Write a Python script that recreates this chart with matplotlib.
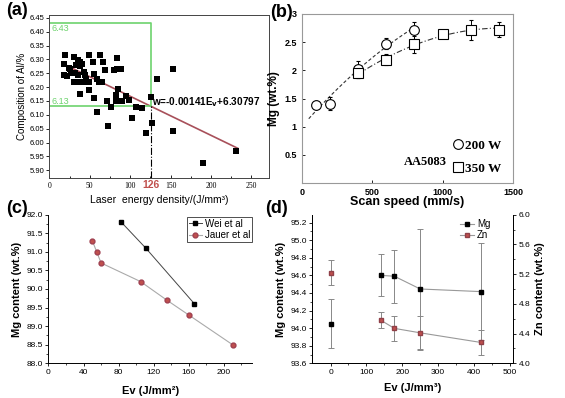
import numpy as np
import matplotlib
matplotlib.use('Agg')
import matplotlib.pyplot as plt
from matplotlib.lines import Line2D

plt.rcParams['font.family'] = ['Liberation Sans', 'DejaVu Sans']

# ---- (a) Al composition vs laser energy density
a_ev = [20, 18, 18, 24, 30, 32.5, 36, 38, 41, 37.5, 32, 35, 30, 36, 42, 38, 43, 44,
        46, 48.5, 49.5, 54.5, 55, 58.5, 61, 62.5, 66, 65.5, 69, 49.5, 55, 59, 72.5,
        71, 76.5, 82.5, 84, 80, 84, 89, 85, 83, 89.5, 94.5, 99, 107, 102, 115, 119.5,
        127, 126, 133.5, 153.5, 153, 190, 231.5, 25.5, 27, 22]
a_al = [6.317, 6.285, 6.242, 6.268, 6.307, 6.280, 6.296, 6.291, 6.282, 6.276, 6.252,
        6.244, 6.220, 6.218, 6.218, 6.176, 6.253, 6.243, 6.230, 6.218, 6.315, 6.289,
        6.248, 6.230, 6.218, 6.315, 6.289, 6.218, 6.261, 6.190, 6.161, 6.109, 6.060,
        6.150, 6.128, 6.150, 6.306, 6.262, 6.266, 6.266, 6.194, 6.170, 6.150, 6.168,
        6.154, 6.128, 6.089, 6.124, 6.034, 6.070, 6.164, 6.231, 6.266, 6.040, 5.927,
        5.968, 6.265, 6.250, 6.240]
fit_slope = -0.00141
fit_icpt = 6.30797
fit_range = [20, 233]
box_ev = 126
box_low, box_high = 6.13, 6.43

# ---- (b) Mg vs scan speed
b_speed_200 = [100, 200, 400, 600, 800]
b_mg_200 = [1.38, 1.41, 2.02, 2.47, 2.71]
b_err_200 = [0.07, 0.12, 0.15, 0.10, 0.15]
b_speed_350 = [400, 600, 800, 1000, 1200, 1400]
b_mg_350 = [1.96, 2.19, 2.46, 2.65, 2.72, 2.72]
b_err_350 = [0.10, 0.10, 0.15, 0.07, 0.18, 0.13]
# trend curves
trend_x_200 = [50, 200, 400, 600, 800]
trend_y_200 = [1.15, 1.52, 2.02, 2.42, 2.76]
trend_x_350 = [400, 600, 800, 1000, 1200, 1400]
trend_y_350 = [1.93, 2.22, 2.45, 2.61, 2.71, 2.75]

# ---- (c) Mg content vs Ev (literature)
wei_ev = [83, 111, 166.5]
wei_mg = [91.8, 91.1, 89.6]
jauer_ev = [50, 55, 60, 105, 135, 160, 210]
jauer_mg = [91.3, 91.0, 90.7, 90.2, 89.7, 89.3, 88.5]

# ---- (d) Mg / Zn content vs Ev
d_ev = [0, 140, 178, 250, 420]
d_mg = [94.05, 94.60, 94.59, 94.445, 94.415]
d_mg_err = [0.28, 0.24, 0.30, 0.68, 0.55]
d_zn = [5.22, 4.58, 4.47, 4.41, 4.28]
d_zn_err = [0.17, 0.11, 0.17, 0.23, 0.17]

red = '#c0504d'
green = '#6dd36d'
serif = 'Liberation Serif'

fig = plt.figure(figsize=(5.65, 3.98), dpi=100)

# ================= (a)
ax = fig.add_axes([0.0873, 0.5535, 0.389, 0.4087])
ax.scatter(a_ev, a_al, marker='s', s=13, color='black', linewidths=0, zorder=3)
fx = np.array(fit_range)
ax.plot(fx, fit_slope * fx + fit_icpt, color='#a8505a', lw=1.2, zorder=2)
ax.plot([0, box_ev, box_ev, 0], [box_high, box_high, box_low, box_low],
        color=green, lw=1.2, zorder=2)
ax.plot([box_ev, box_ev], [5.873, box_low], color='black', lw=0.8, ls='-.', zorder=2)
ax.text(3, 6.413, '6.43', color=green, fontsize=6.5, va='center')
ax.text(3, 6.148, '6.13', color=green, fontsize=6.5, va='center')
ax.text(127, 6.146, r'w=-0.00141E$_\mathbf{v}$+6.30797', fontsize=7.2, fontweight='bold',
        va='center')
ax.text(box_ev, 5.866, str(box_ev), color=red, fontsize=7.5, fontweight='bold',
        ha='center', va='top')
ax.set_xlim(0, 272)
ax.set_ylim(5.873, 6.46)
ax.set_xticks([0, 50, 100, 150, 200, 250])
ax.set_xticks(np.arange(25, 272, 25), minor=True)
ax.set_yticks(np.arange(5.90, 6.46, 0.05))
ax.set_yticklabels(['%.2f' % v for v in np.arange(5.90, 6.46, 0.05)])
ax.tick_params(axis='y', labelsize=5.5, length=2, width=0.6, pad=1.5)
ax.tick_params(axis='x', labelsize=5.5, length=2, width=0.6, direction='in', pad=3)
ax.tick_params(axis='x', which='minor', length=1.5, direction='in')
for lab in ax.get_xticklabels():
    lab.set_fontfamily(serif)
ax.set_ylabel('Composition of Al/%', fontsize=7, labelpad=2)
ax.set_xlabel('Laser  energy density/(J/mm³)', fontsize=7.5, labelpad=4)
for s in ax.spines.values():
    s.set_linewidth(0.7)
    s.set_color('#444444')

# ================= (b)
ax = fig.add_axes([0.534, 0.540, 0.374, 0.425])
tx = np.linspace(trend_x_200[0], trend_x_200[-1], 100)
ax.plot(tx, np.polyval(np.polyfit(trend_x_200, trend_y_200, 2), tx),
        color='#333333', lw=0.8, ls=(0, (3, 2)))
tx = np.linspace(trend_x_350[0], trend_x_350[-1], 100)
ax.plot(tx, np.polyval(np.polyfit(trend_x_350, trend_y_350, 2), tx),
        color='#333333', lw=0.8, ls=(0, (5, 2, 1, 2)))
ax.errorbar(b_speed_200, b_mg_200, yerr=b_err_200, fmt='o', ms=7, mfc='white',
            mec='black', mew=0.8, ecolor='black', elinewidth=0.7, capsize=1.5)
ax.errorbar(b_speed_350, b_mg_350, yerr=b_err_350, fmt='s', ms=7, mfc='white',
            mec='black', mew=0.8, ecolor='black', elinewidth=0.7, capsize=1.5)
ax.text(880, 0.38, 'AA5083', fontfamily=serif, fontweight='bold', fontsize=9,
        ha='center', va='center')
hb = [Line2D([], [], marker='o', ls='none', ms=7, mfc='none', mec='black', mew=0.8),
      Line2D([], [], marker='s', ls='none', ms=7, mfc='none', mec='black', mew=0.8)]
ax.legend(hb, ['200 W', '350 W'], loc='lower right', bbox_to_anchor=(1.0, -0.02),
          frameon=False, handlelength=0.8, handletextpad=0.1, labelspacing=0.8,
          prop=dict(family=serif, weight='bold', size=9.5))
ax.set_xlim(0, 1500)
ax.set_ylim(0, 3)
ax.set_xticks([0, 500, 1000, 1500])
ax.set_yticks([0.5, 1, 1.5, 2, 2.5, 3])
ax.set_yticklabels(['0.5', '1', '1.5', '2', '2.5', '3'])
ax.tick_params(labelsize=6.5, length=2, width=0.6, direction='in')
for lab in ax.get_xticklabels() + ax.get_yticklabels():
    lab.set_fontweight('bold')
ax.set_xlabel('Scan speed (mm/s)', fontsize=9, fontweight='bold', labelpad=-1)
ax.set_ylabel('Mg (wt.%)', fontsize=8.5, fontweight='bold', labelpad=3)
for s in ax.spines.values():
    s.set_linewidth(0.8)
    s.set_color('#999999')

# ================= (c)
ax = fig.add_axes([0.0858, 0.0872, 0.360, 0.3734])
ax.plot(wei_ev, wei_mg, color='#444444', lw=0.7, marker='s', ms=3.5,
        mfc='black', mec='black', label='Wei et al')
ax.plot(jauer_ev, jauer_mg, color='#aaaaaa', lw=0.8, marker='o', ms=3.5,
        mfc=red, mec='#a04050', label='Jauer et al')
ax.legend(loc='upper right', bbox_to_anchor=(1.01, 1.0), fontsize=7, frameon=True,
          fancybox=False, edgecolor='black', handlelength=1.3, handletextpad=0.3,
          borderpad=0.2, labelspacing=0.15, borderaxespad=0.2).get_frame().set_linewidth(0.6)
ax.set_xlim(0, 232)
ax.set_ylim(88, 92)
ax.set_xticks([0, 40, 80, 120, 160, 200])
ax.set_xticks(np.arange(20, 232, 40), minor=True)
ax.set_yticks(np.arange(88, 92.01, 0.5))
ax.set_yticklabels(['%.1f' % v for v in np.arange(88, 92.01, 0.5)])
ax.set_yticks(np.arange(88.25, 92, 0.5), minor=True)
ax.tick_params(labelsize=6, length=2.5, width=0.6, pad=1.5)
ax.tick_params(which='minor', length=1.5, width=0.5)
ax.set_xlabel('Ev (J/mm²)', fontsize=8, fontweight='bold', labelpad=7)
ax.set_ylabel('Mg content (wt.%)', fontsize=8, fontweight='bold', labelpad=3)
ax.spines['top'].set_visible(False)
ax.spines['right'].set_visible(False)
for s in ['left', 'bottom']:
    ax.spines[s].set_linewidth(0.7)

# ================= (d)
ax = fig.add_axes([0.5527, 0.0872, 0.356, 0.3734])
ax2 = ax.twinx()
ax.errorbar(d_ev, d_mg, yerr=d_mg_err, fmt='none', ecolor='#888888',
            elinewidth=0.7, capsize=2, capthick=0.7)
ax.plot(d_ev[1:], d_mg[1:], color='#999999', lw=0.8)
ax.plot(d_ev, d_mg, ls='none', marker='s', ms=3.5, mfc='black', mec='black')
ax2.errorbar(d_ev, d_zn, yerr=d_zn_err, fmt='none', ecolor='#888888',
             elinewidth=0.7, capsize=2, capthick=0.7)
ax2.plot(d_ev[1:], d_zn[1:], color='#999999', lw=0.8)
ax2.plot(d_ev, d_zn, ls='none', marker='s', ms=3.5, mfc=red, mec='#904048')
hd = [Line2D([], [], color='#999999', lw=0.8, marker='s', ms=3.5, mfc='black', mec='black'),
      Line2D([], [], color='#999999', lw=0.8, marker='s', ms=3.5, mfc=red, mec='#904048')]
ax2.legend(hd, ['Mg', 'Zn'], loc='upper right', bbox_to_anchor=(0.93, 1.03),
           frameon=False, fontsize=7, handlelength=1.5, handletextpad=0.3,
           labelspacing=0.1)
ax.set_xlim(-51, 510)
ax.set_ylim(93.6, 95.29)
ax2.set_ylim(4.0, 6.0)
ax.set_xticks(np.arange(0, 501, 100))
ax.set_xticks(np.arange(50, 501, 100), minor=True)
ax.set_yticks(np.arange(93.6, 95.21, 0.2))
ax.set_yticklabels(['%.1f' % v for v in np.arange(93.6, 95.21, 0.2)])
ax.set_yticks(np.arange(93.7, 95.3, 0.2), minor=True)
ax2.set_yticks(np.arange(4.0, 6.01, 0.4))
ax2.set_yticklabels(['%.1f' % v for v in np.arange(4.0, 6.01, 0.4)])
ax2.set_yticks(np.arange(4.2, 6.0, 0.4), minor=True)
for a in (ax, ax2):
    a.tick_params(labelsize=6, length=2.5, width=0.6, pad=1.5)
    a.tick_params(which='minor', length=1.5, width=0.5)
    a.spines['top'].set_visible(False)
    for s in a.spines.values():
        s.set_linewidth(0.7)
ax.set_xlabel('Ev (J/mm³)', fontsize=8, fontweight='bold', labelpad=5)
ax.set_ylabel('Mg content (wt.%)', fontsize=8, fontweight='bold', labelpad=3)
ax2.set_ylabel('Zn content (wt.%)', fontsize=8, fontweight='bold', labelpad=3)

# panel letters
for x, y, t in [(0.010, 0.995, '(a)'), (0.478, 0.990, '(b)'),
                (0.010, 0.498, '(c)'), (0.470, 0.498, '(d)')]:
    fig.text(x, y, t, fontsize=13, fontweight='bold', va='top')

fig.savefig('out.png', dpi=100)
